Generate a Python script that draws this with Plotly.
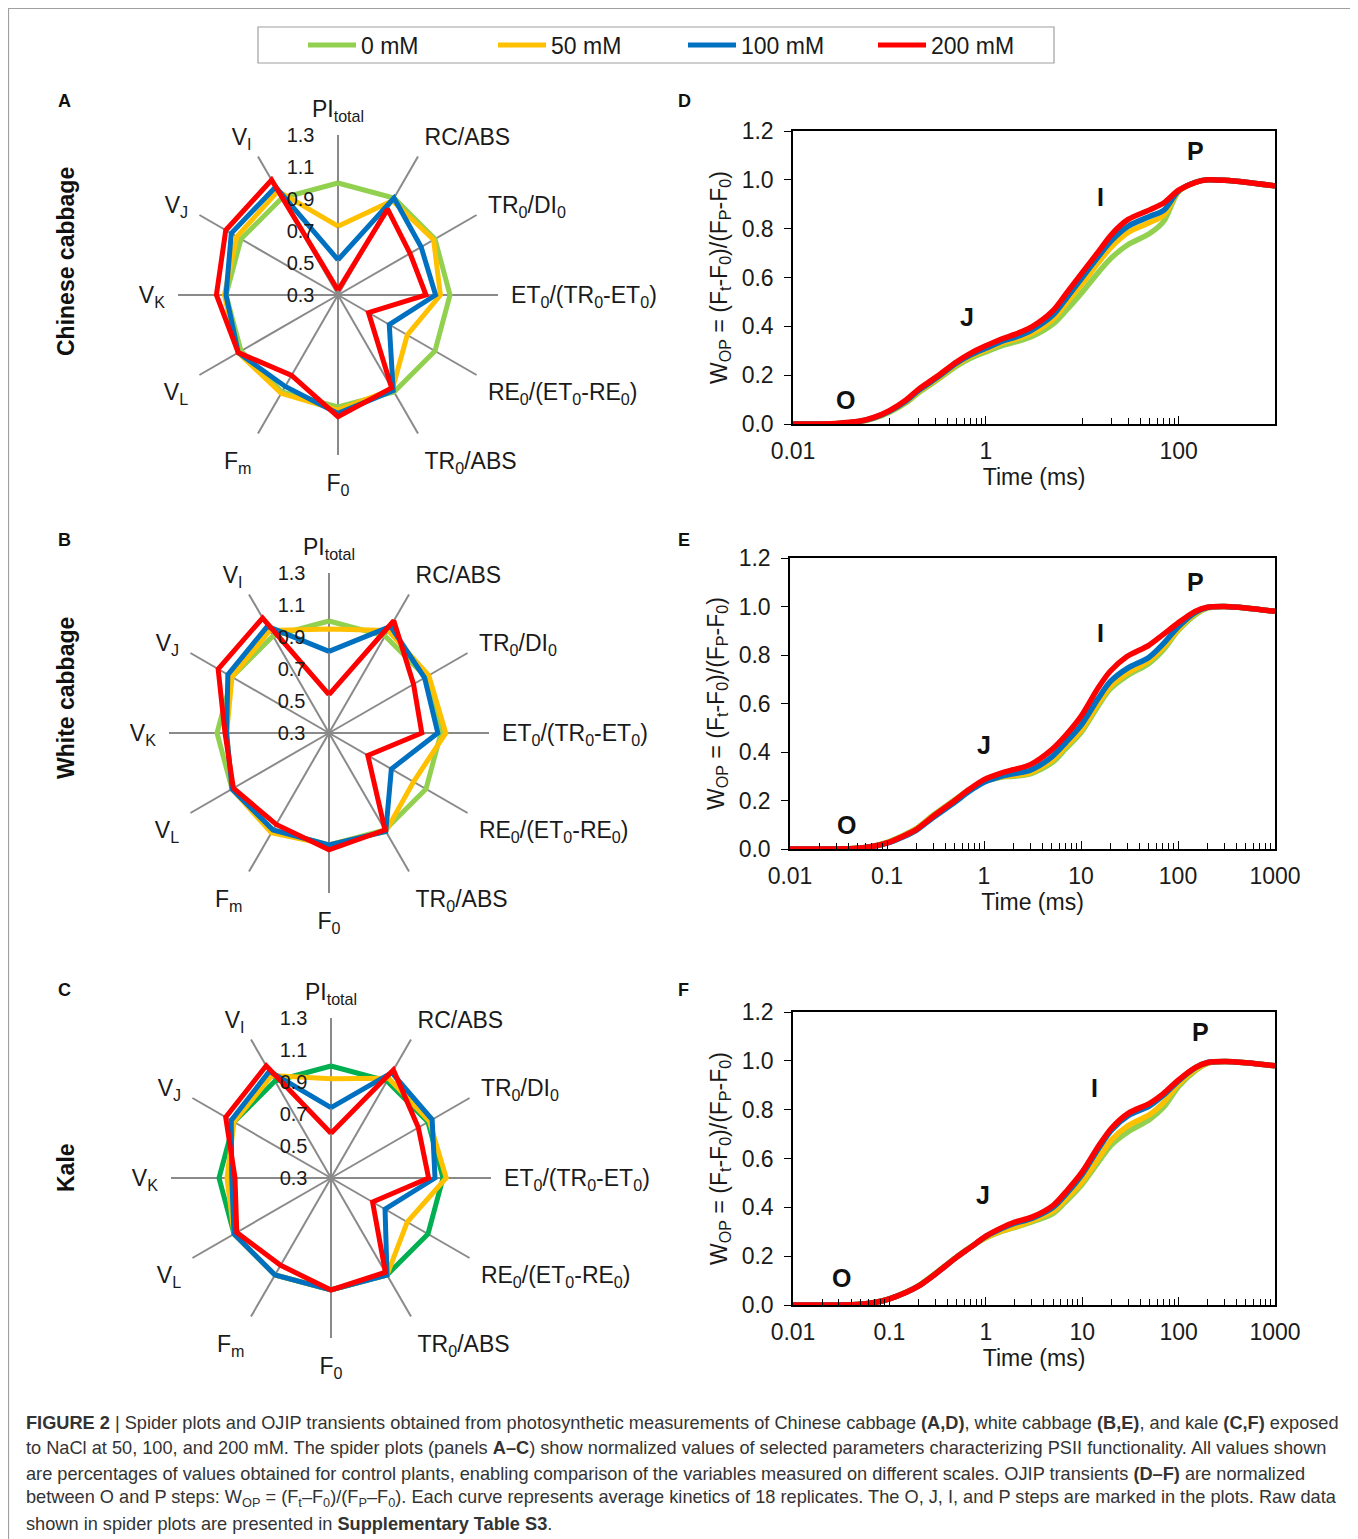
import math
import plotly.graph_objects as go

W, H = 1358, 1539
OFF = 8  # the page places the figure 8 px from the window corner
FONT = "Liberation Sans, Arial, sans-serif"
CAP_FONT = "Liberation Sans, Arial, sans-serif"


def px_x(x):
    return (x - OFF) / W


def px_y(y):
    return 1 - (y - OFF) / H


# ---------------- data ----------------
params = ["PI<sub>total</sub>", "RC/ABS", "TR<sub>0</sub>/DI<sub>0</sub>",
          "ET<sub>0</sub>/(TR<sub>0</sub>-ET<sub>0</sub>)",
          "RE<sub>0</sub>/(ET<sub>0</sub>-RE<sub>0</sub>)", "TR<sub>0</sub>/ABS",
          "F<sub>0</sub>", "F<sub>m</sub>", "V<sub>L</sub>", "V<sub>K</sub>",
          "V<sub>J</sub>", "V<sub>I</sub>"]
conc_names = ["0 mM", "50 mM", "100 mM", "200 mM"]
colors = ["#92D050", "#FFC000", "#0070C0", "#FF0000"]
kale_green = "#00B050"

radial_ticks = [0.3, 0.5, 0.7, 0.9, 1.1, 1.3]

# Chinese cabbage (A)
A_0 = [1.0, 1.0, 1.0, 1.0, 1.0, 1.0, 1.0, 1.0, 1.0, 1.0, 1.0, 1.0]
A_50 = [0.73, 0.98, 0.99, 0.94, 0.80, 0.98, 1.02, 1.01, 1.02, 1.01, 1.03, 1.05]
A_100 = [0.52, 1.00, 0.90, 0.91, 0.67, 0.99, 1.04, 0.96, 1.02, 1.00, 1.07, 1.08]
A_200 = [0.33, 0.92, 0.82, 0.85, 0.52, 0.97, 1.06, 0.88, 1.02, 1.06, 1.11, 1.13]

# White cabbage (B)
B_0 = [1.0, 1.0, 1.0, 1.0, 1.0, 1.0, 1.0, 1.0, 1.0, 1.0, 1.0, 1.0]
B_50 = [0.95, 1.04, 1.02, 1.03, 0.91, 1.01, 1.00, 1.02, 1.00, 0.94, 1.00, 1.04]
B_100 = [0.81, 1.07, 0.99, 0.98, 0.75, 1.01, 1.00, 1.00, 1.00, 0.94, 1.03, 1.07]
B_200 = [0.54, 1.11, 0.91, 0.88, 0.58, 1.00, 1.03, 0.96, 0.99, 0.95, 1.10, 1.13]

# Kale (C)
C_0 = [1.0, 1.0, 1.0, 1.0, 1.0, 1.0, 1.0, 1.0, 1.0, 1.0, 1.0, 1.0]
C_50 = [0.92, 1.02, 1.01, 1.02, 0.85, 1.00, 1.00, 1.00, 1.00, 0.95, 1.00, 1.04]
C_100 = [0.74, 1.06, 1.03, 0.95, 0.69, 1.00, 1.00, 1.00, 1.00, 0.92, 1.02, 1.07]
C_200 = [0.58, 1.08, 0.93, 0.91, 0.60, 0.98, 1.00, 0.93, 0.98, 0.90, 1.06, 1.11]

# OJIP transients
time_ms = [0.01, 0.02, 0.03, 0.05, 0.07, 0.1, 0.15, 0.2, 0.3, 0.5, 0.7, 1, 1.5, 2, 3,
           5, 7, 10, 15, 20, 30, 50, 70, 100, 150, 200, 300, 500, 1000]

D_0 = [0, 0, 0.002, 0.010, 0.024, 0.048, 0.088, 0.128, 0.175, 0.238, 0.270, 0.295, 0.322,
       0.335, 0.358, 0.410, 0.470, 0.540, 0.625, 0.680, 0.735, 0.780, 0.830, 0.952, 0.990,
       1.0, 0.998, 0.990, 0.975]
D_50 = [0, 0, 0.002, 0.010, 0.025, 0.050, 0.092, 0.133, 0.180, 0.245, 0.278, 0.303, 0.333,
        0.347, 0.372, 0.430, 0.500, 0.575, 0.665, 0.725, 0.785, 0.825, 0.855, 0.953, 0.990,
        1.0, 0.998, 0.990, 0.975]
D_100 = [0, 0, 0.002, 0.011, 0.026, 0.052, 0.095, 0.137, 0.185, 0.250, 0.283, 0.310, 0.340,
         0.355, 0.385, 0.447, 0.520, 0.600, 0.690, 0.750, 0.810, 0.850, 0.875, 0.955, 0.990,
         1.0, 0.998, 0.990, 0.975]
D_200 = [0, 0, 0.003, 0.012, 0.028, 0.055, 0.100, 0.142, 0.190, 0.255, 0.290, 0.320, 0.350,
         0.367, 0.398, 0.465, 0.540, 0.620, 0.710, 0.775, 0.838, 0.877, 0.905, 0.958, 0.990,
         1.0, 0.998, 0.990, 0.975]

E_0 = [0, 0, 0, 0.003, 0.011, 0.027, 0.058, 0.084, 0.140, 0.203, 0.245, 0.278, 0.296,
       0.300, 0.310, 0.355, 0.415, 0.480, 0.590, 0.660, 0.715, 0.765, 0.820, 0.900, 0.965,
       0.993, 1.0, 0.994, 0.980]
E_50 = [0, 0, 0, 0.003, 0.010, 0.026, 0.056, 0.082, 0.137, 0.200, 0.243, 0.278, 0.298,
        0.303, 0.315, 0.365, 0.425, 0.490, 0.600, 0.670, 0.725, 0.775, 0.830, 0.905, 0.970,
        0.995, 1.0, 0.994, 0.980]
E_100 = [0, 0, 0, 0.003, 0.010, 0.024, 0.052, 0.077, 0.130, 0.193, 0.237, 0.275, 0.300,
         0.310, 0.325, 0.380, 0.440, 0.510, 0.620, 0.690, 0.745, 0.790, 0.845, 0.915, 0.975,
         0.996, 1.0, 0.994, 0.980]
E_200 = [0, 0, 0, 0.003, 0.010, 0.025, 0.055, 0.080, 0.135, 0.200, 0.245, 0.286, 0.313,
         0.327, 0.348, 0.410, 0.470, 0.547, 0.664, 0.733, 0.795, 0.840, 0.884, 0.932, 0.980,
         0.997, 1.0, 0.994, 0.980]

F_0 = [0, 0, 0, 0.003, 0.010, 0.025, 0.053, 0.079, 0.130, 0.198, 0.238, 0.275, 0.303,
       0.318, 0.340, 0.375, 0.430, 0.495, 0.590, 0.655, 0.710, 0.760, 0.810, 0.895, 0.960,
       0.990, 0.997, 0.992, 0.980]
F_50 = [0, 0, 0, 0.003, 0.010, 0.025, 0.053, 0.078, 0.129, 0.197, 0.238, 0.275, 0.305,
        0.320, 0.345, 0.385, 0.440, 0.505, 0.605, 0.675, 0.735, 0.780, 0.830, 0.905, 0.965,
        0.991, 0.997, 0.992, 0.980]
F_100 = [0, 0, 0, 0.003, 0.010, 0.025, 0.052, 0.077, 0.127, 0.196, 0.237, 0.280, 0.315,
         0.335, 0.355, 0.400, 0.460, 0.535, 0.645, 0.715, 0.775, 0.815, 0.860, 0.918, 0.972,
         0.993, 0.997, 0.992, 0.980]
F_200 = [0, 0, 0, 0.003, 0.010, 0.025, 0.052, 0.077, 0.127, 0.196, 0.237, 0.282, 0.319,
         0.340, 0.360, 0.408, 0.470, 0.545, 0.655, 0.723, 0.785, 0.826, 0.867, 0.922, 0.973,
         0.993, 0.997, 0.992, 0.980]

# step labels (time in ms, W_OP value)
steps = ["O", "J", "I", "P"]
D_step_t = [0.035, 0.64, 15.3, 151]
D_step_y = [0.10, 0.44, 0.93, 1.12]
E_step_t = [0.038, 1.0, 16, 153]
E_step_y = [0.10, 0.43, 0.89, 1.10]
F_step_t = [0.032, 0.93, 13.5, 167]
F_step_y = [0.11, 0.45, 0.89, 1.12]

x_ticks_D = [0.01, 1, 100]
x_ticks_full = [0.01, 0.1, 1, 10, 100, 1000]
x_ticktext_D = ["0.01", "1", "100"]
x_ticktext_full = ["0.01", "0.1", "1", "10", "100", "1000"]
minor_D = [0.1, 0.2, 0.3, 0.4, 0.5, 0.6, 0.7, 0.8, 0.9, 10, 20, 30, 40, 50, 60, 70, 80, 90]
minor_full = [m * 10 ** e for e in range(-2, 3) for m in range(2, 10)]

# ---------------- figure ----------------
fig = go.Figure()

spiders = [("polar", [A_0, A_50, A_100, A_200], colors),
           ("polar2", [B_0, B_50, B_100, B_200], colors),
           ("polar3", [C_0, C_50, C_100, C_200], [kale_green] + colors[1:])]
for si, (sub, series, cols) in enumerate(spiders):
    for k, vals in enumerate(series):
        fig.add_trace(go.Scatterpolar(
            r=vals + [vals[0]], theta=params + [params[0]], mode="lines",
            line=dict(color=cols[k], width=5), subplot=sub,
            name=conc_names[k], legendgroup=conc_names[k],
            showlegend=(si == 0), hoverinfo="skip"))

ojip = [("x", "y", [D_0, D_50, D_100, D_200]),
        ("x2", "y2", [E_0, E_50, E_100, E_200]),
        ("x3", "y3", [F_0, F_50, F_100, F_200])]
for xa, ya, series in ojip:
    for k, vals in enumerate(series):
        fig.add_trace(go.Scatter(
            x=time_ms, y=vals, mode="lines", xaxis=xa, yaxis=ya,
            line=dict(color=colors[k], width=5.5, shape="spline", smoothing=0.8),
            name=conc_names[k], legendgroup=conc_names[k], showlegend=False,
            hoverinfo="skip"))


def polar_layout(cx, cy, r=160):
    return dict(
        domain=dict(x=[px_x(cx - r), px_x(cx + r)], y=[px_y(cy + r), px_y(cy - r)]),
        bgcolor="rgba(0,0,0,0)",
        radialaxis=dict(range=[0.3, 1.3], tickvals=radial_ticks, tickformat=".1f",
                        showline=False, showgrid=False, ticks="outside", ticklen=16,
                        tickcolor="rgba(0,0,0,0)", angle=90,
                        side="counterclockwise", tickangle=90,
                        tickfont=dict(size=20, color="#1a1a1a", family=FONT)),
        angularaxis=dict(rotation=90, direction="clockwise", showline=False,
                         showgrid=True, gridcolor="#8a8a8a", gridwidth=1.5,
                         ticks="outside", ticklen=8, tickcolor="rgba(0,0,0,0)",
                         tickfont=dict(size=23, color="#1a1a1a", family=FONT)),
    )


def x_axis(x0, x1, y_anchor, ticks, ticktext, minor):
    return dict(type="log", range=[-2, 3], domain=[px_x(x0), px_x(x1)], anchor=y_anchor,
                tickmode="array", tickvals=ticks, ticktext=ticktext,
                ticks="inside", ticklen=8, tickcolor="black", tickwidth=1.2,
                ticklabelstandoff=6,
                minor=dict(tickmode="array", tickvals=minor, ticks="inside", ticklen=6,
                           tickcolor="black", tickwidth=1.2, showgrid=False),
                showline=True, mirror=True, linecolor="black", linewidth=1.5,
                showgrid=False, zeroline=False, automargin=False,
                tickfont=dict(size=23, color="#1a1a1a", family=FONT),
                title=dict(text="Time (ms)", standoff=0,
                           font=dict(size=23, color="#1a1a1a", family=FONT)))


def y_axis(y_top, y_bot, x_anchor):
    return dict(range=[0, 1.2], domain=[px_y(y_bot), px_y(y_top)], anchor=x_anchor,
                dtick=0.2, tick0=0, tickformat=".1f", ticks="outside", ticklen=7,
                tickcolor="black", tickwidth=1.2, ticklabelstandoff=6,
                showline=True, mirror=True,
                linecolor="black", linewidth=1.5, showgrid=False, zeroline=False,
                automargin=False,
                tickfont=dict(size=23, color="#1a1a1a", family=FONT),
                title=dict(text="W<sub>OP</sub> = (F<sub>t</sub>-F<sub>0</sub>)/(F<sub>P</sub>-F<sub>0</sub>)",
                           standoff=8, font=dict(size=23, color="#1a1a1a", family=FONT)))


annotations = []
# panel letters
for letter, x, y in [("A", 65, 101), ("D", 684, 101), ("B", 65, 540), ("E", 684, 540),
                     ("C", 65, 990), ("F", 683, 990)]:
    annotations.append(dict(text=f"<b>{letter}</b>", x=px_x(x), y=px_y(y), xref="paper",
                            yref="paper", showarrow=False, xanchor="center", yanchor="middle",
                            font=dict(size=18, color="#111", family=FONT)))
# row labels
for label, y in [("Chinese cabbage", 262), ("White cabbage", 698), ("Kale", 1168)]:
    annotations.append(dict(text=f"<b>{label}</b>", x=px_x(66), y=px_y(y), xref="paper",
                            yref="paper", showarrow=False, textangle=-90, xanchor="center",
                            yanchor="middle", font=dict(size=23, color="#111", family=FONT)))
# OJIP step letters
for xa, ya, ts, ys in [("x", "y", D_step_t, D_step_y), ("x2", "y2", E_step_t, E_step_y),
                       ("x3", "y3", F_step_t, F_step_y)]:
    for s, t, v in zip(steps, ts, ys):
        annotations.append(dict(text=f"<b>{s}</b>", x=math.log10(t), y=v, xref=xa, yref=ya,
                                showarrow=False, font=dict(size=25, color="#111", family=FONT)))

# caption
caption_lines = [
    "<b>FIGURE 2</b> | Spider plots and OJIP transients obtained from photosynthetic measurements of Chinese cabbage <b>(A,D)</b>, white cabbage <b>(B,E)</b>, and kale <b>(C,F)</b> exposed",
    "to NaCl at 50, 100, and 200 mM. The spider plots (panels <b>A–C</b>) show normalized values of selected parameters characterizing PSII functionality. All values shown",
    "are percentages of values obtained for control plants, enabling comparison of the variables measured on different scales. OJIP transients <b>(D–F)</b> are normalized",
    "between O and P steps: W<sub>OP</sub> = (F<sub>t</sub>–F<sub>0</sub>)/(F<sub>P</sub>–F<sub>0</sub>). Each curve represents average kinetics of 18 replicates. The O, J, I, and P steps are marked in the plots. Raw data",
    "shown in spider plots are presented in <b>Supplementary Table S3</b>.",
]
for i, line in enumerate(caption_lines):
    annotations.append(dict(text=line, x=px_x(24), y=px_y(1423 + 25.3 * i), xref="paper",
                            yref="paper", showarrow=False, xanchor="left", yanchor="middle",
                            align="left", font=dict(size=18.2, color="#333", family=CAP_FONT)))

shapes = [
    # figure frame
    dict(type="rect", xref="paper", yref="paper", x0=px_x(8.5), x1=px_x(1351),
         y0=px_y(1560), y1=px_y(8.5), line=dict(color="#a0a0a0", width=1.2),
         fillcolor="rgba(0,0,0,0)", layer="below"),
    # legend frame
    dict(type="rect", xref="paper", yref="paper", x0=px_x(258), x1=px_x(1054),
         y0=px_y(63), y1=px_y(27), line=dict(color="#a0a0a0", width=1.2),
         fillcolor="white", layer="below"),
]

fig.update_layout(
    width=W, height=H, autosize=False,
    margin=dict(l=0, r=0, t=0, b=0, pad=0, autoexpand=False),
    paper_bgcolor="white", plot_bgcolor="white",
    font=dict(family=FONT, color="#1a1a1a"),
    polar=polar_layout(338, 295), polar2=polar_layout(329, 733), polar3=polar_layout(331, 1178),
    xaxis=x_axis(793, 1275, "y", x_ticks_D, x_ticktext_D, minor_D),
    yaxis=y_axis(131, 424, "x"),
    xaxis2=x_axis(790, 1275, "y2", x_ticks_full, x_ticktext_full, minor_full),
    yaxis2=y_axis(558, 849, "x2"),
    xaxis3=x_axis(793, 1275, "y3", x_ticks_full, x_ticktext_full, minor_full),
    yaxis3=y_axis(1012, 1305, "x3"),
    showlegend=True,
    legend=dict(orientation="h", x=px_x(303), y=px_y(45), xanchor="left", yanchor="middle",
                borderwidth=0, bgcolor="rgba(0,0,0,0)",
                font=dict(size=23, color="#1a1a1a", family=FONT),
                entrywidth=127, entrywidthmode="pixels", itemwidth=48),
    annotations=annotations, shapes=shapes,
)

fig.write_html("out.html")
